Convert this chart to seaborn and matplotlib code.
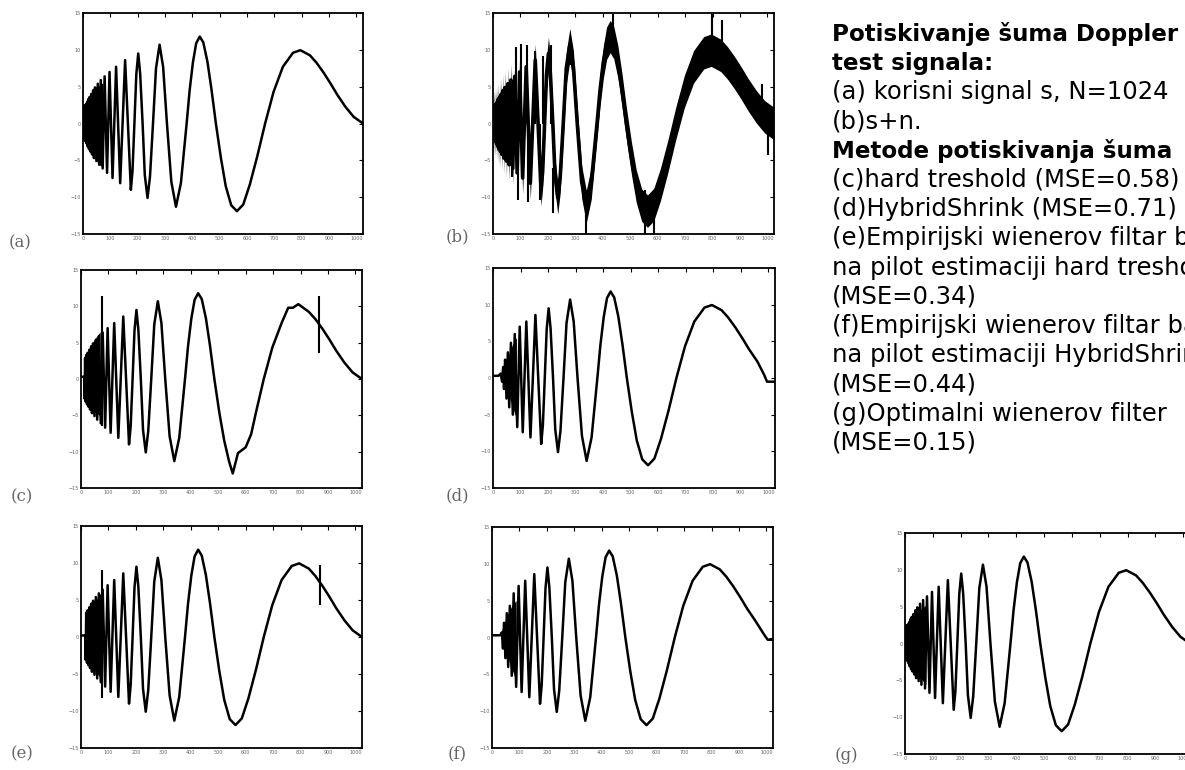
import numpy as np
import matplotlib
matplotlib.use("Agg")
import matplotlib.pyplot as plt
import seaborn as sns

# ---------------- data ----------------
# clean Doppler test signal s (panels a, g): sample index / value
clean_n = [0, 1, 2, 3, 5, 6, 8, 9, 11, 13, 15, 17, 19, 22, 24, 27, 30, 33, 37, 40,
           44, 49, 54, 59, 65, 72, 79, 88, 97, 108, 121, 136, 154,
           175, 181, 188, 195, 202, 209, 218, 226, 236, 245, 256, 267, 280, 293, 307, 323,
           340, 358, 379, 390, 402, 414, 427, 440, 455, 470, 486, 504, 522, 542, 563, 586,
           610, 637, 666, 697, 731, 768, 795, 830, 854, 880, 905, 930, 960, 990, 1024]
clean_v = [0.0, -2.0, 2.3, -2.1, 2.4, -2.2, 2.5, -2.4, 2.6, -2.7, 2.9, -3.1, 3.3, -3.5,
           3.6, -3.8, 4.0, -4.2, 4.5, -4.7, 4.9, -5.1, 5.4, -5.6, 5.9, -6.1, 6.4, -6.7,
           7.0, -7.4, 7.7, -8.1, 8.6,
           -9.0, -6.5, 0.0, 6.7, 9.5, 6.8, 0.0, -7.0, -10.1, -7.2, 0.0, 7.5, 10.7, 7.7,
           0.0, -7.9, -11.3, -8.1, 0.0, 4.5, 8.3, 10.9, 11.8, 11.0, 8.4, 4.6, 0.0, -4.6,
           -8.5, -11.1, -11.9, -11.0, -8.3, -4.5, 0.0, 4.3, 7.7, 9.6, 9.95, 9.25, 8.25,
           6.9, 5.45, 3.9, 2.25, 0.9, 0.0]

# dense (unresolved) start of each trace: sample, upper and lower edge
a_blk_n = [0, 20, 40, 60, 72]
a_blk_hi = [2.5, 3.3, 4.3, 5.2, 5.5]
a_blk_lo = [-2.2, -3.3, -4.5, -5.6, -6.0]
c_blk_n = [13, 30, 50, 70]
c_blk_hi = [3.0, 4.3, 5.5, 6.5]
c_blk_lo = [-2.4, -3.5, -4.5, -5.1]
d_blk_n = [33, 50, 70, 85]
d_blk_hi = [0.8, 2.2, 4.5, 5.5]
d_blk_lo = [-0.5, -1.5, -3.8, -5.6]
e_blk_n = [17, 35, 55, 72]
e_blk_hi = [2.5, 4.0, 5.0, 6.0]
e_blk_lo = [-2.5, -3.5, -4.8, -5.5]
f_blk_n = [36, 55, 75, 88]
f_blk_hi = [1.0, 3.0, 4.5, 5.0]
f_blk_lo = [-0.8, -2.5, -4.5, -6.0]
g_blk_n = [0, 25, 50, 75]
g_blk_hi = [2.2, 3.0, 4.5, 5.2]
g_blk_lo = [-2.0, -3.3, -4.5, -5.5]

# (b) s+n : noise band half width and the tallest noise spikes
b_band = 2.2
b_spike_n = [55, 69, 83, 91, 103, 125, 128, 152, 170, 182, 210, 219, 280, 338, 438,
             553, 586, 797, 833, 979, 1003]
b_spike_lo = [-5.4, -7.2, 0.0, -10.4, 0.0, 0.0, -10.6, 0.0, -10.4, 0.0, 0.0, -12.2,
              8.0, -15.0, 10.0, -15.0, -15.0, 8.0, 7.0, 1.0, -4.3]
b_spike_hi = [0.0, 0.0, 10.4, 0.0, 10.8, 10.7, 0.0, 9.9, 0.0, 9.2, 10.6, -6.0,
              11.8, -9.0, 14.9, -9.0, -9.0, 14.9, 14.0, 5.4, 1.0]

# (c) hard threshold
c_head_n = [0, 12]
c_head_v = [0.3, 0.3]
c_mid_n = [540, 553, 572, 600, 620, 637]
c_mid_v = [-11.4, -13.0, -10.2, -9.4, -7.6, -4.7]
c_top_n = [755, 772, 792]
c_top_v = [9.8, 9.8, 10.3]
c_spike_n = [76, 867]
c_spike_lo = [-6.5, 3.6]
c_spike_hi = [11.4, 11.4]

# (d) HybridShrink
d_head_n = [0, 20, 28, 33, 37, 40, 44, 49, 54, 59, 65, 72, 79]
d_head_v = [0.3, 0.3, 0.6, -0.5, 1.5, -1.5, 2.5, -2.8, 3.5, -4.0, 4.8, -5.0, 6.0]
d_tail_n = [985, 995, 1024]
d_tail_v = [0.4, -0.5, -0.5]

# (e) empirical Wiener, hard-threshold pilot
e_head_n = [0, 16]
e_head_v = [0.2, 0.2]
e_spike_n = [75, 870]
e_spike_lo = [-8.3, 4.3]
e_spike_hi = [9.1, 9.7]

# (f) empirical Wiener, HybridShrink pilot
f_head_n = [0, 30, 36, 40, 44, 49, 54, 59, 65, 72, 79]
f_head_v = [0.3, 0.3, 0.7, -1.5, 2.0, -2.8, 3.3, -4.0, 4.3, -5.2, 6.0]
f_tail_n = [995, 1005, 1024]
f_tail_v = [0.2, -0.3, -0.3]

x_ticks = [0, 100, 200, 300, 400, 500, 600, 700, 800, 900, 1000]
y_ticks = [-15, -10, -5, 0, 5, 10, 15]

text_lines = [
    ("Potiskivanje šuma Doppler", "bold"),
    ("test signala:", "bold"),
    ("(a) korisni signal s, N=1024", "normal"),
    ("(b)s+n.", "normal"),
    ("Metode potiskivanja šuma", "bold"),
    ("(c)hard treshold (MSE=0.58)", "normal"),
    ("(d)HybridShrink (MSE=0.71)", "normal"),
    ("(e)Empirijski wienerov filtar baziran", "normal"),
    ("na pilot estimaciji hard treshold", "normal"),
    ("(MSE=0.34)", "normal"),
    ("(f)Empirijski wienerov filtar baziran", "normal"),
    ("na pilot estimaciji HybridShrink", "normal"),
    ("(MSE=0.44)", "normal"),
    ("(g)Optimalni wienerov filter", "normal"),
    ("(MSE=0.15)", "normal"),
]

# ---------------- assemble series ----------------
cn = np.array(clean_n, dtype=float)
cv = np.array(clean_v, dtype=float)

def part(lo, hi):
    m = (cn > lo) & (cn < hi)
    return cn[m], cv[m]

def join(*segs):
    n = np.concatenate([np.asarray(s[0], float) for s in segs])
    v = np.concatenate([np.asarray(s[1], float) for s in segs])
    return n, v

series = {
    "a": (cn, cv),
    "b": (cn, cv),
    "c": join((c_head_n, c_head_v), part(12, 530), (c_mid_n, c_mid_v),
              part(640, 750), (c_top_n, c_top_v), part(800, 2000)),
    "d": join((d_head_n, d_head_v), part(80, 970), (d_tail_n, d_tail_v)),
    "e": join((e_head_n, e_head_v), part(16, 2000)),
    "f": join((f_head_n, f_head_v), part(80, 980), (f_tail_n, f_tail_v)),
    "g": (cn, cv),
}
blocks = {
    "a": (a_blk_n, a_blk_lo, a_blk_hi),
    "c": (c_blk_n, c_blk_lo, c_blk_hi),
    "d": (d_blk_n, d_blk_lo, d_blk_hi),
    "e": (e_blk_n, e_blk_lo, e_blk_hi),
    "f": (f_blk_n, f_blk_lo, f_blk_hi),
    "g": (g_blk_n, g_blk_lo, g_blk_hi),
}
spikes = {
    "b": (b_spike_n, b_spike_lo, b_spike_hi),
    "c": (c_spike_n, c_spike_lo, c_spike_hi),
    "e": (e_spike_n, e_spike_lo, e_spike_hi),
}

# ---------------- figure ----------------
sns.set_theme(style="white")
plt.rcParams["font.family"] = ["DejaVu Sans"]

W, H = 1185, 770
fig = plt.figure(figsize=(W / 100, H / 100), dpi=100)
fig.patch.set_facecolor("white")

def rect(l, r, t, b):
    return [l / W, (H - b) / H, (r - l) / W, (b - t) / H]

axes_px = {
    "a": (83, 363, 13, 234),
    "b": (493, 774, 13, 234),
    "c": (81, 362, 270, 488),
    "d": (493, 775, 268, 488),
    "e": (81, 362, 526, 748),
    "f": (492, 773, 527, 748),
    "g": (905, 1190, 533, 754),
}
label_px = {
    "a": (20, 243), "b": (457, 237), "c": (22, 497), "d": (457, 496),
    "e": (22, 754), "f": (457, 754), "g": (846, 756),
}

for key, (l, r, t, b) in axes_px.items():
    ax = fig.add_axes(rect(l, r, t, b))
    n, v = series[key]
    if key == "b":
        ax.fill_between(n, v - b_band, v + b_band, color="black", linewidth=0)
        sns.lineplot(x=n, y=v, ax=ax, color="black", linewidth=2.6,
                     estimator=None, sort=False)
    else:
        bn, blo, bhi = blocks[key]
        ax.fill_between(bn, blo, bhi, color="black", linewidth=0)
        sns.lineplot(x=n, y=v, ax=ax, color="black", linewidth=1.8,
                     estimator=None, sort=False)
    if key in spikes:
        sn, slo, shi = spikes[key]
        ax.vlines(sn, slo, shi, color="black", linewidth=1.5)
    ax.set_xlim(0, 1024)
    ax.set_ylim(-15, 15)
    ax.set_xticks(x_ticks)
    ax.set_yticks(y_ticks)
    ax.set_xlabel("")
    ax.set_ylabel("")
    ax.tick_params(direction="in", top=True, right=True, length=3, width=0.8,
                   labelsize=3.5, labelcolor="#666666", pad=1.5, color="black")
    for s in ax.spines.values():
        s.set_visible(True)
        s.set_linewidth(1.3)
        s.set_color("black")
    lx, ly = label_px[key]
    fig.text(lx / W, 1 - ly / H, f"({key})", ha="center", va="center",
             fontsize=12, color="#666666", family=["DejaVu Serif"])

y0, dy = 41, 29.2
for i, (txt, wgt) in enumerate(text_lines):
    fs = 16.6 if wgt == "bold" else 17.5
    fig.text(832 / W, 1 - (y0 + i * dy) / H, txt, ha="left", va="baseline",
             fontsize=fs, fontweight=wgt, color="black")

fig.savefig("out.png", dpi=100, facecolor="white")
